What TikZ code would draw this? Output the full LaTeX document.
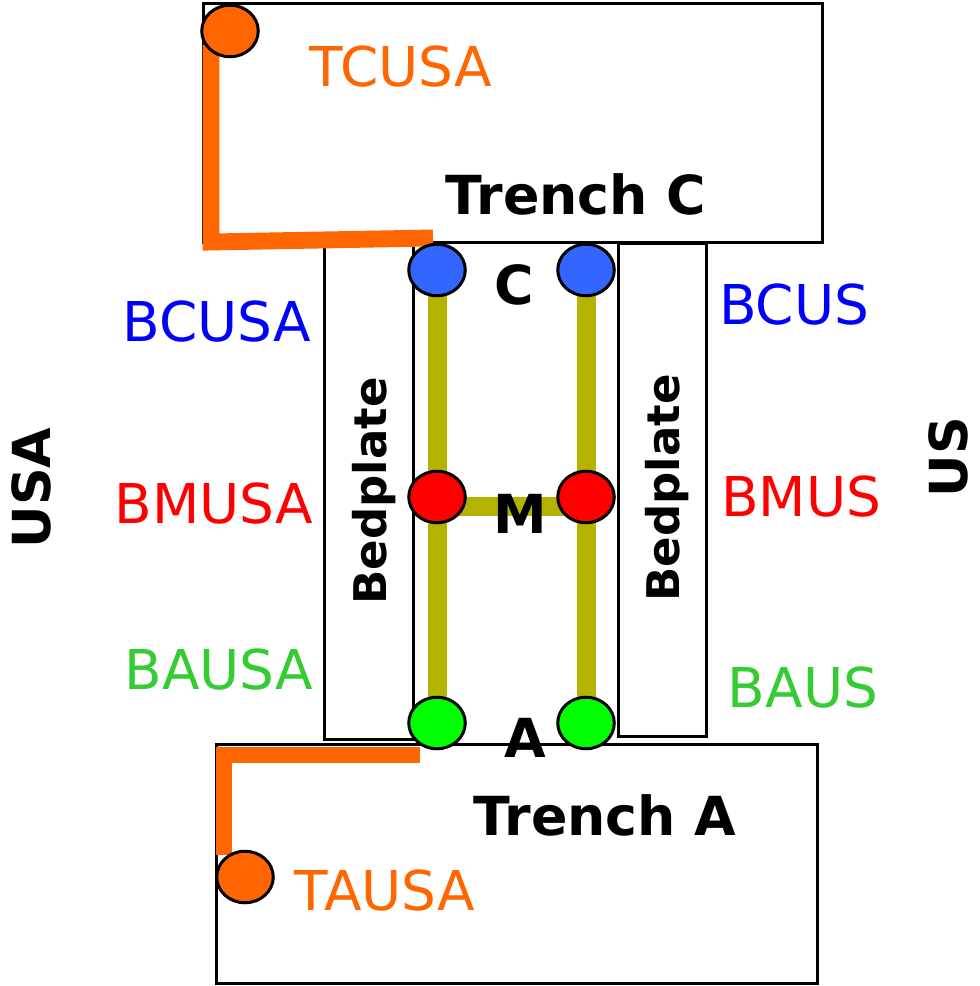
\documentclass[tikz,border=0pt]{standalone}
\usepackage{fontspec}
\setmainfont{DejaVu Sans}
\usetikzlibrary{shapes.geometric}

\definecolor{trenchorange}{HTML}{FF6600}
\definecolor{cblue}{HTML}{3366FF}
\definecolor{mred}{HTML}{FF0000}
\definecolor{agreen}{HTML}{00FF00}
\definecolor{barolive}{HTML}{B3B300}
\definecolor{lblblue}{HTML}{0000FF}
\definecolor{lblred}{HTML}{FF0000}
\definecolor{lblgreen}{HTML}{33CC33}

\pgfdeclarelayer{background}
\pgfsetlayers{background,main}

\tikzset{
  box/.style={draw=black, line width=0.85pt, fill=white},
  sensor/.style={ellipse, draw=black, line width=0.85pt, minimum width=0.565cm,
                 minimum height=0.515cm, inner sep=0pt},
  bar/.style={draw=barolive, line width=5.4pt},
  cable/.style={draw=trenchorange, line width=4.8pt, line join=miter},
  tag/.style={anchor=base, inner sep=0pt, font=\fontsize{15.6pt}{18pt}\selectfont},
  bigtag/.style={anchor=base, inner sep=0pt, font=\fontsize{15.3pt}{18pt}\selectfont\bfseries},
  sidetag/.style={anchor=base, rotate=90, inner sep=0pt, font=\fontsize{14.9pt}{18pt}\selectfont\bfseries},
  platetag/.style={anchor=base, rotate=90, inner sep=0pt, font=\fontsize{12.8pt}{15pt}\selectfont\bfseries}
}

\begin{document}
\begin{tikzpicture}[x=0.01cm, y=-0.01cm]
  \useasboundingbox (0,0) rectangle (979,986);

  % sensor positions
  \node[sensor, fill=cblue]  (cL) at (437,270) {};
  \node[sensor, fill=cblue]  (cR) at (586,270) {};
  \node[sensor, fill=mred]   (mL) at (437,497) {};
  \node[sensor, fill=mred]   (mR) at (586,497) {};
  \node[sensor, fill=agreen] (aL) at (437,723) {};
  \node[sensor, fill=agreen] (aR) at (586,723) {};
  \node[sensor, fill=trenchorange] (tc) at (230,31) {};
  \node[sensor, fill=trenchorange] (ta) at (245,877) {};

  % cable bends
  \coordinate (tcTop)  at (211,45);
  \coordinate (tcBend) at (211,242);
  \coordinate (taBend) at (224,755);
  \coordinate (taLow)  at (224,855);

  \begin{pgfonlayer}{background}
    % trenches and bedplates
    \draw[box] (203,4) rectangle (822,243);
    \draw[box] (216,744) rectangle (817,983);
    \draw[box] (324,245) rectangle (413,739);
    \draw[box] (618,244) rectangle (706,736);
    % frame bars between the sensors
    \draw[bar] (cL.center) -- (aL.center);
    \draw[bar] (cR.center) -- (aR.center);
    \draw[bar] ([yshift=-0.09cm]mL.center) -- ([yshift=-0.09cm]mR.center);
    % cable runs from the trenches
    \draw[cable] (tcTop) -- (tcBend) -- (433,238);
    \draw[cable] (420,755) -- (taBend) -- (taLow);
  \end{pgfonlayer}

  % labels
  \node[tag, text=trenchorange] (ltc) at (401,87) {TCUSA};
  \node[tag, text=trenchorange] (lta) at (385,910) {TAUSA};
  \node[bigtag] (ltrc) at (576,215) {Trench C};
  \node[bigtag] (ltra) at (605,835) {Trench A};
  \node[bigtag] (lc) at (514,305) {C};
  \node[bigtag] (lm) at (520,533) {M};
  \node[bigtag] (la) at (525,757) {A};

  \node[tag, text=lblblue]  (lbcusa) at (217,342) {BCUSA};
  \node[tag, text=lblred]   (lbmusa) at (214,523) {BMUSA};
  \node[tag, text=lblgreen] (lbausa) at (219,689) {BAUSA};
  \node[tag, text=lblblue]  (lbcus)  at (794,325) {BCUS};
  \node[tag, text=lblred]   (lbmus)  at (801,517) {BMUS};
  \node[tag, text=lblgreen] (lbaus)  at (803,707) {BAUS};

  \node[platetag] (lbpl) at (386,491) {Bedplate};
  \node[platetag] (lbpr) at (679,488) {Bedplate};
  \node[sidetag] (lusa) at (50,488) {USA};
  \node[sidetag] (lus)  at (967,457) {US};
\end{tikzpicture}
\end{document}
